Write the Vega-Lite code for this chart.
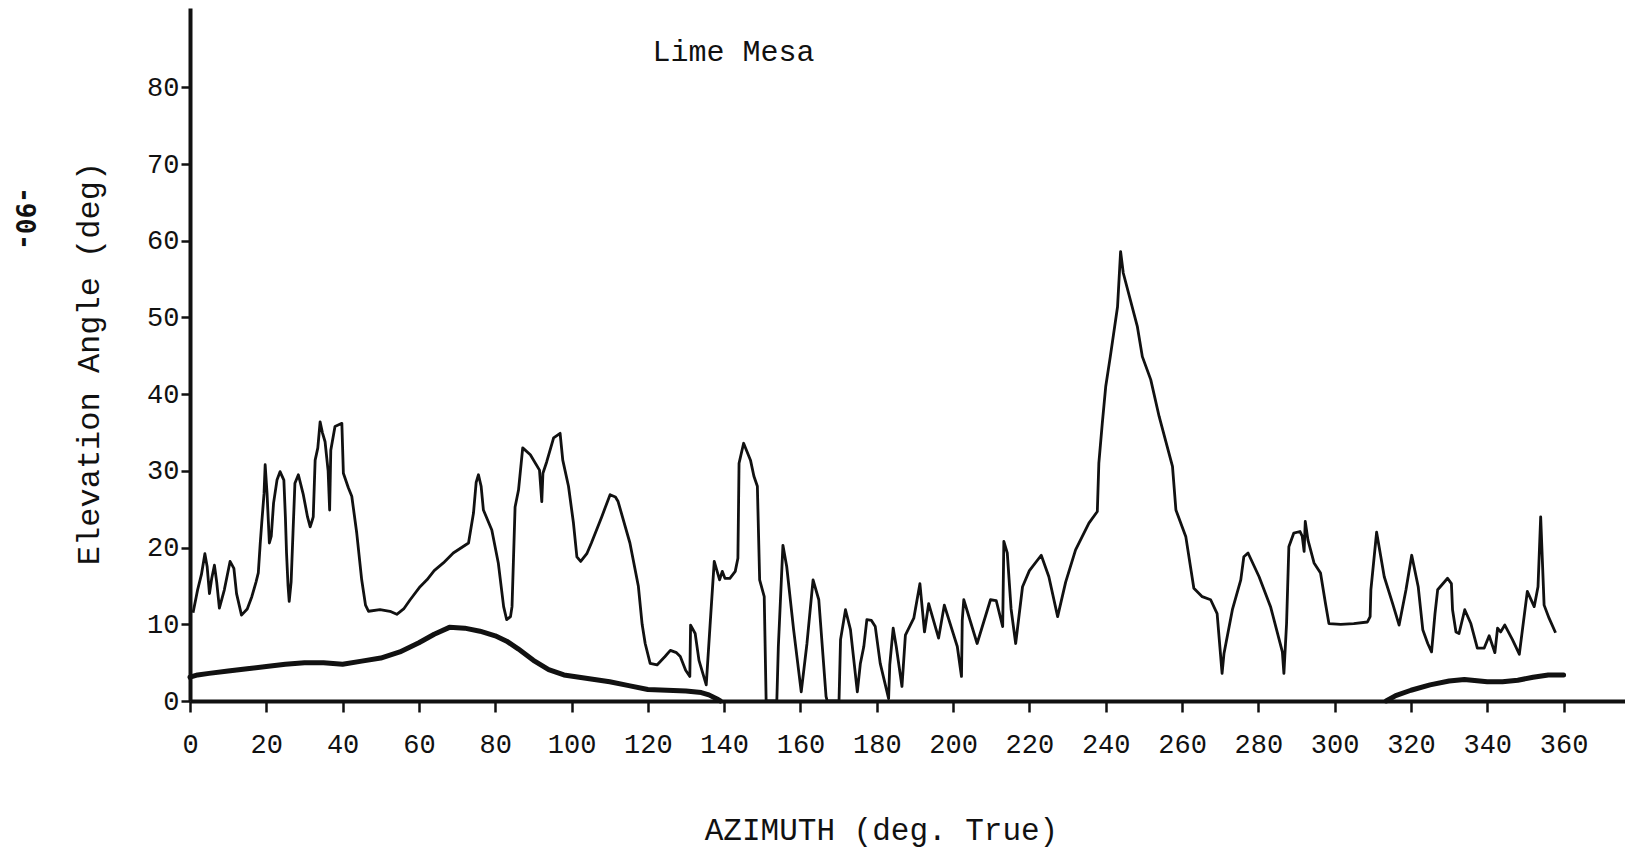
{
  "$schema": "https://vega.github.io/schema/vega-lite/v6.json",
  "width": 1435,
  "height": 693,
  "autosize": {"type": "none"},
  "padding": {"left": 190, "top": 8, "right": 0, "bottom": 146},
  "background": "white",
  "config": {"view": {"stroke": null}},
  "title": {"text": "Lime Mesa", "font": "Liberation Mono", "fontSize": 30, "fontWeight": "normal", "color": "#111111", "anchor": "middle", "frame": "group", "offset": 0, "baseline": "middle", "dy": 74, "dx": -174},
  "datasets": {
    "horizon": [
      {"az": 0.8, "el": 11.5}, {"az": 2.0, "el": 14.5}, {"az": 3.0, "el": 16.5}, {"az": 3.9, "el": 19.2}, {"az": 4.5, "el": 17.5},
      {"az": 5.1, "el": 14.0}, {"az": 5.7, "el": 16.0}, {"az": 6.4, "el": 17.7}, {"az": 7.0, "el": 15.5}, {"az": 7.7, "el": 12.1},
      {"az": 9.0, "el": 14.5}, {"az": 10.5, "el": 18.2}, {"az": 11.5, "el": 17.3}, {"az": 12.2, "el": 14.0}, {"az": 13.5, "el": 11.2},
      {"az": 15.0, "el": 12.0}, {"az": 16.2, "el": 13.6}, {"az": 17.3, "el": 15.5}, {"az": 17.9, "el": 16.7}, {"az": 18.4, "el": 20.5},
      {"az": 18.8, "el": 23.2}, {"az": 19.4, "el": 27.0}, {"az": 19.7, "el": 30.8}, {"az": 20.2, "el": 27.0}, {"az": 20.8, "el": 20.6},
      {"az": 21.3, "el": 21.5}, {"az": 21.9, "el": 25.8}, {"az": 22.8, "el": 28.8}, {"az": 23.6, "el": 29.9}, {"az": 24.6, "el": 28.8},
      {"az": 25.0, "el": 24.0}, {"az": 25.3, "el": 19.3}, {"az": 25.7, "el": 15.0}, {"az": 26.0, "el": 13.0}, {"az": 26.5, "el": 15.5},
      {"az": 27.0, "el": 22.0}, {"az": 27.5, "el": 28.4}, {"az": 28.4, "el": 29.5}, {"az": 29.7, "el": 26.9}, {"az": 30.8, "el": 24.0},
      {"az": 31.5, "el": 22.7}, {"az": 32.0, "el": 23.5}, {"az": 32.3, "el": 24.0}, {"az": 32.8, "el": 31.4}, {"az": 33.5, "el": 33.0},
      {"az": 34.1, "el": 36.4}, {"az": 34.7, "el": 35.0}, {"az": 35.4, "el": 33.8}, {"az": 36.2, "el": 30.0}, {"az": 36.6, "el": 24.9},
      {"az": 36.9, "el": 32.7}, {"az": 38.0, "el": 35.8}, {"az": 39.8, "el": 36.2}, {"az": 40.2, "el": 29.7}, {"az": 41.5, "el": 27.8},
      {"az": 42.4, "el": 26.7}, {"az": 43.7, "el": 21.9}, {"az": 45.0, "el": 15.8}, {"az": 46.0, "el": 12.5}, {"az": 46.8, "el": 11.7},
      {"az": 49.8, "el": 11.9}, {"az": 52.4, "el": 11.7}, {"az": 54.2, "el": 11.3}, {"az": 56.0, "el": 12.0}, {"az": 57.7, "el": 13.2},
      {"az": 60.3, "el": 14.9}, {"az": 62.1, "el": 15.8}, {"az": 64.0, "el": 17.0}, {"az": 66.4, "el": 18.0}, {"az": 69.0, "el": 19.3},
      {"az": 73.0, "el": 20.6}, {"az": 74.3, "el": 24.5}, {"az": 75.0, "el": 28.5}, {"az": 75.6, "el": 29.5}, {"az": 76.3, "el": 28.0},
      {"az": 76.9, "el": 24.9}, {"az": 79.1, "el": 22.3}, {"az": 80.8, "el": 18.0}, {"az": 82.2, "el": 12.3}, {"az": 83.0, "el": 10.6},
      {"az": 84.0, "el": 11.0}, {"az": 84.4, "el": 12.3}, {"az": 85.2, "el": 25.3}, {"az": 86.1, "el": 27.5}, {"az": 87.2, "el": 33.0},
      {"az": 89.2, "el": 32.1}, {"az": 91.6, "el": 30.1}, {"az": 92.2, "el": 26.0}, {"az": 92.5, "el": 29.7}, {"az": 93.5, "el": 31.2},
      {"az": 95.3, "el": 34.3}, {"az": 97.0, "el": 34.9}, {"az": 97.7, "el": 31.4}, {"az": 99.2, "el": 28.0}, {"az": 100.5, "el": 23.2},
      {"az": 101.4, "el": 18.8}, {"az": 102.4, "el": 18.2}, {"az": 104.0, "el": 19.2}, {"az": 105.2, "el": 20.6}, {"az": 107.9, "el": 24.0},
      {"az": 110.1, "el": 26.9}, {"az": 111.5, "el": 26.6}, {"az": 112.2, "el": 26.0}, {"az": 115.3, "el": 20.6}, {"az": 117.5, "el": 15.0},
      {"az": 118.5, "el": 10.0}, {"az": 119.3, "el": 7.5}, {"az": 120.6, "el": 4.9}, {"az": 122.4, "el": 4.7}, {"az": 124.5, "el": 5.8},
      {"az": 125.9, "el": 6.6}, {"az": 127.5, "el": 6.3}, {"az": 128.5, "el": 5.8}, {"az": 129.9, "el": 4.0}, {"az": 131.0, "el": 3.2},
      {"az": 131.2, "el": 9.9}, {"az": 132.4, "el": 8.8}, {"az": 133.4, "el": 5.3}, {"az": 135.3, "el": 2.1}, {"az": 136.4, "el": 10.6},
      {"az": 137.4, "el": 18.2}, {"az": 138.8, "el": 15.8}, {"az": 139.5, "el": 16.9}, {"az": 140.2, "el": 16.0}, {"az": 141.5, "el": 16.0},
      {"az": 142.9, "el": 16.9}, {"az": 143.6, "el": 18.6}, {"az": 143.9, "el": 31.0}, {"az": 145.1, "el": 33.6}, {"az": 146.9, "el": 31.4},
      {"az": 147.8, "el": 29.3}, {"az": 148.7, "el": 28.0}, {"az": 149.3, "el": 15.8}, {"az": 150.5, "el": 13.6}, {"az": 151.0, "el": 0},
      {"az": 153.8, "el": 0}, {"az": 154.2, "el": 7.1}, {"az": 155.4, "el": 20.3}, {"az": 156.4, "el": 17.5}, {"az": 158.2, "el": 9.3},
      {"az": 160.2, "el": 1.2}, {"az": 161.7, "el": 7.5}, {"az": 163.3, "el": 15.8}, {"az": 164.8, "el": 13.2}, {"az": 166.7, "el": 0.6},
      {"az": 167.0, "el": 0}, {"az": 170.1, "el": 0}, {"az": 170.5, "el": 8.0}, {"az": 171.8, "el": 11.9}, {"az": 173.1, "el": 9.3},
      {"az": 174.9, "el": 1.2}, {"az": 175.7, "el": 4.9}, {"az": 176.6, "el": 7.1}, {"az": 177.4, "el": 10.6}, {"az": 178.6, "el": 10.5},
      {"az": 179.6, "el": 9.7}, {"az": 180.9, "el": 4.9}, {"az": 183.1, "el": 0.3}, {"az": 183.4, "el": 4.7}, {"az": 184.3, "el": 9.5},
      {"az": 185.1, "el": 7.1}, {"az": 186.6, "el": 1.9}, {"az": 187.5, "el": 8.6}, {"az": 189.7, "el": 10.8}, {"az": 191.3, "el": 15.3},
      {"az": 192.5, "el": 9.0}, {"az": 193.6, "el": 12.7}, {"az": 196.2, "el": 8.2}, {"az": 197.7, "el": 12.5}, {"az": 201.1, "el": 7.1},
      {"az": 202.2, "el": 3.2}, {"az": 202.4, "el": 10.5}, {"az": 202.8, "el": 13.2}, {"az": 206.3, "el": 7.5}, {"az": 209.8, "el": 13.2},
      {"az": 211.3, "el": 13.1}, {"az": 213.0, "el": 9.7}, {"az": 213.3, "el": 20.8}, {"az": 214.2, "el": 19.3}, {"az": 215.2, "el": 12.0},
      {"az": 216.4, "el": 7.5}, {"az": 218.2, "el": 14.9}, {"az": 220.0, "el": 17.0}, {"az": 223.1, "el": 19.0}, {"az": 225.1, "el": 16.2},
      {"az": 227.4, "el": 11.0}, {"az": 229.5, "el": 15.5}, {"az": 232.1, "el": 19.7}, {"az": 235.6, "el": 23.2}, {"az": 237.8, "el": 24.7},
      {"az": 238.2, "el": 31.0}, {"az": 239.1, "el": 36.2}, {"az": 240.0, "el": 41.0}, {"az": 241.2, "el": 44.9}, {"az": 243.1, "el": 51.4},
      {"az": 243.9, "el": 58.6}, {"az": 244.6, "el": 55.8}, {"az": 248.3, "el": 48.8}, {"az": 249.6, "el": 44.9}, {"az": 251.8, "el": 41.9},
      {"az": 254.0, "el": 37.1}, {"az": 257.5, "el": 30.6}, {"az": 258.4, "el": 24.9}, {"az": 261.0, "el": 21.4}, {"az": 263.1, "el": 14.7},
      {"az": 265.3, "el": 13.6}, {"az": 267.5, "el": 13.2}, {"az": 269.2, "el": 11.4}, {"az": 270.5, "el": 3.6}, {"az": 271.0, "el": 6.2},
      {"az": 273.2, "el": 11.9}, {"az": 275.4, "el": 15.8}, {"az": 276.2, "el": 18.8}, {"az": 277.3, "el": 19.3}, {"az": 280.2, "el": 16.2},
      {"az": 283.2, "el": 12.3}, {"az": 286.3, "el": 6.4}, {"az": 286.7, "el": 3.6}, {"az": 287.4, "el": 10.1}, {"az": 288.0, "el": 20.1},
      {"az": 289.3, "el": 21.9}, {"az": 290.9, "el": 22.1}, {"az": 291.5, "el": 21.5}, {"az": 292.0, "el": 19.5}, {"az": 292.3, "el": 23.4},
      {"az": 293.0, "el": 21.0}, {"az": 294.6, "el": 18.0}, {"az": 296.3, "el": 16.7}, {"az": 297.6, "el": 12.7}, {"az": 298.5, "el": 10.1},
      {"az": 301.6, "el": 10.0}, {"az": 305.0, "el": 10.1}, {"az": 308.6, "el": 10.3}, {"az": 309.3, "el": 11.0}, {"az": 309.5, "el": 14.5},
      {"az": 311.0, "el": 22.0}, {"az": 313.0, "el": 16.2}, {"az": 315.2, "el": 12.7}, {"az": 316.9, "el": 9.9}, {"az": 318.7, "el": 14.5},
      {"az": 320.2, "el": 19.0}, {"az": 321.9, "el": 14.9}, {"az": 323.1, "el": 9.3}, {"az": 324.4, "el": 7.5}, {"az": 325.4, "el": 6.4},
      {"az": 326.3, "el": 11.4}, {"az": 327.0, "el": 14.5}, {"az": 329.6, "el": 16.0}, {"az": 330.6, "el": 15.3}, {"az": 330.9, "el": 11.9},
      {"az": 331.8, "el": 9.0}, {"az": 332.6, "el": 8.8}, {"az": 334.1, "el": 11.9}, {"az": 335.7, "el": 10.1}, {"az": 337.4, "el": 6.9},
      {"az": 339.2, "el": 6.9}, {"az": 340.5, "el": 8.5}, {"az": 342.0, "el": 6.3}, {"az": 342.7, "el": 9.5}, {"az": 343.5, "el": 9.0},
      {"az": 344.6, "el": 9.9}, {"az": 346.6, "el": 8.0}, {"az": 348.4, "el": 6.1}, {"az": 350.5, "el": 14.3}, {"az": 352.3, "el": 12.3},
      {"az": 353.3, "el": 14.9}, {"az": 354.0, "el": 24.0}, {"az": 354.9, "el": 12.5}, {"az": 356.2, "el": 10.8}, {"az": 357.9, "el": 8.9}
    ],
    "lower": [
      {"seg": "a", "az": 0, "el": 3.1}, {"seg": "a", "az": 2, "el": 3.4}, {"seg": "a", "az": 5, "el": 3.6}, {"seg": "a", "az": 10, "el": 3.9},
      {"seg": "a", "az": 15, "el": 4.2}, {"seg": "a", "az": 20, "el": 4.5}, {"seg": "a", "az": 25, "el": 4.8}, {"seg": "a", "az": 30, "el": 5.0},
      {"seg": "a", "az": 35, "el": 5.0}, {"seg": "a", "az": 40, "el": 4.8}, {"seg": "a", "az": 45, "el": 5.2}, {"seg": "a", "az": 50, "el": 5.6},
      {"seg": "a", "az": 55, "el": 6.4}, {"seg": "a", "az": 60, "el": 7.6}, {"seg": "a", "az": 64, "el": 8.7}, {"seg": "a", "az": 68, "el": 9.6},
      {"seg": "a", "az": 72, "el": 9.5}, {"seg": "a", "az": 76, "el": 9.1}, {"seg": "a", "az": 80, "el": 8.5}, {"seg": "a", "az": 83, "el": 7.8},
      {"seg": "a", "az": 86, "el": 6.8}, {"seg": "a", "az": 90, "el": 5.3}, {"seg": "a", "az": 94, "el": 4.1}, {"seg": "a", "az": 98, "el": 3.4},
      {"seg": "a", "az": 102, "el": 3.1}, {"seg": "a", "az": 106, "el": 2.8}, {"seg": "a", "az": 110, "el": 2.5}, {"seg": "a", "az": 115, "el": 2.0},
      {"seg": "a", "az": 120, "el": 1.5}, {"seg": "a", "az": 125, "el": 1.4}, {"seg": "a", "az": 130, "el": 1.3}, {"seg": "a", "az": 134, "el": 1.1},
      {"seg": "a", "az": 136, "el": 0.8}, {"seg": "a", "az": 138, "el": 0.3}, {"seg": "a", "az": 139, "el": 0},
      {"seg": "b", "az": 313.5, "el": 0}, {"seg": "b", "az": 316, "el": 0.7}, {"seg": "b", "az": 320, "el": 1.4}, {"seg": "b", "az": 325, "el": 2.1},
      {"seg": "b", "az": 330, "el": 2.6}, {"seg": "b", "az": 334, "el": 2.8}, {"seg": "b", "az": 340, "el": 2.5}, {"seg": "b", "az": 344, "el": 2.5},
      {"seg": "b", "az": 348, "el": 2.7}, {"seg": "b", "az": 352, "el": 3.1}, {"seg": "b", "az": 356, "el": 3.4}, {"seg": "b", "az": 360, "el": 3.4}
    ]
  },
  "layer": [
    {
      "data": {"name": "horizon"},
      "mark": {"type": "line", "color": "#111111", "strokeWidth": 2.8, "strokeJoin": "round"},
      "encoding": {
        "x": {"field": "az", "type": "quantitative", "scale": {"domain": [0, 376.1], "nice": false, "zero": false},
          "axis": {"values": [0, 20, 40, 60, 80, 100, 120, 140, 160, 180, 200, 220, 240, 260, 280, 300, 320, 340, 360], "format": "d",
            "grid": false, "domainColor": "#111111", "domainWidth": 4, "tickColor": "#111111", "tickWidth": 2.5, "tickSize": 11,
            "labelFont": "Liberation Mono", "labelFontSize": 27, "labelColor": "#111111", "labelPadding": 19, "labelFlush": false, "labelOverlap": false,
            "title": "AZIMUTH (deg. True)", "titleFont": "Liberation Mono", "titleFontSize": 31, "titleFontWeight": "normal", "titleColor": "#111111",
            "titleX": 691, "titleY": 129, "titleAlign": "center", "titleBaseline": "middle"}},
        "y": {"field": "el", "type": "quantitative", "scale": {"domain": [0, 90.35], "nice": false, "zero": false},
          "axis": {"values": [0, 10, 20, 30, 40, 50, 60, 70, 80], "format": "d",
            "grid": false, "domainColor": "#111111", "domainWidth": 4, "tickColor": "#111111", "tickWidth": 2.5, "tickSize": 9,
            "labelFont": "Liberation Mono", "labelFontSize": 27, "labelColor": "#111111", "labelPadding": 2, "labelFlush": false, "labelOverlap": false,
            "title": "Elevation Angle (deg)", "titleFont": "Liberation Mono", "titleFontSize": 32, "titleFontWeight": "normal", "titleColor": "#111111",
            "titleX": -102, "titleY": 355, "titleAngle": -90, "titleAlign": "center", "titleBaseline": "middle"}}
      }
    },
    {
      "data": {"name": "lower"},
      "mark": {"type": "line", "color": "#111111", "strokeWidth": 5, "strokeJoin": "round", "strokeCap": "round"},
      "encoding": {
        "x": {"field": "az", "type": "quantitative", "scale": {"domain": [0, 376.1], "nice": false, "zero": false},
          "axis": {"values": [0, 20, 40, 60, 80, 100, 120, 140, 160, 180, 200, 220, 240, 260, 280, 300, 320, 340, 360], "format": "d",
            "grid": false, "domainColor": "#111111", "domainWidth": 4, "tickColor": "#111111", "tickWidth": 2.5, "tickSize": 11,
            "labelFont": "Liberation Mono", "labelFontSize": 27, "labelColor": "#111111", "labelPadding": 19, "labelFlush": false, "labelOverlap": false,
            "title": "AZIMUTH (deg. True)", "titleFont": "Liberation Mono", "titleFontSize": 31, "titleFontWeight": "normal", "titleColor": "#111111",
            "titleX": 691, "titleY": 129, "titleAlign": "center", "titleBaseline": "middle"}},
        "y": {"field": "el", "type": "quantitative", "scale": {"domain": [0, 90.35], "nice": false, "zero": false},
          "axis": {"orient": "left", "domain": false, "ticks": false, "labels": false, "grid": false,
            "title": "-90-", "titleFont": "DejaVu Sans Mono", "titleFontSize": 26, "titleFontWeight": "bold", "titleColor": "#111111",
            "titleX": -167, "titleY": 210, "titleAngle": 90, "titleAlign": "center", "titleBaseline": "middle"}},
        "detail": {"field": "seg", "type": "nominal"}
      }
    }
  ],
  "resolve": {"axis": {"y": "independent"}}
}
